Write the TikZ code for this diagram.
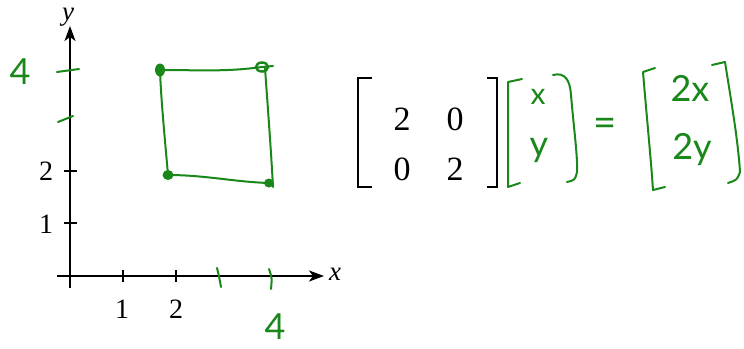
\documentclass[tikz,border=0pt]{standalone}
\usepackage{fontspec}
\setmainfont{Liberation Serif}
\newfontfamily\hand{Lato}
\usetikzlibrary{arrows.meta,shapes.geometric}
\definecolor{pen}{RGB}{25,135,25}
\begin{document}
\begin{tikzpicture}[x=1pt,y=-1pt,
 axis/.style={line width=1.4pt, -{Stealth[length=15pt,width=11pt,inset=4pt]}},
 tickmark/.style={line width=1.3pt},
 ticklabel/.style={font=\fontsize{28}{28}\selectfont, inner sep=0},
 axlabel/.style={font=\fontsize{27}{27}\selectfont\itshape, inner sep=0},
 ink/.style={pen, line width=2pt, line cap=round, line join=round},
 inktext/.style={pen, font=\hand\fontsize{36}{36}\selectfont, inner sep=0},
 entry/.style={font=\fontsize{34}{34}\selectfont, inner sep=0},
 bracket/.style={line width=1.8pt},
 inkdot/.style={ellipse, fill=pen, inner sep=0, minimum width=10pt, minimum height=13pt}
]
\useasboundingbox (0,0) rectangle (744,348);
% axes
\coordinate (xs) at (57,276);
\coordinate (xe) at (324,276);
\coordinate (ys) at (70,288);
\coordinate (ye) at (70,26);
\draw[axis] (xs) -- (xe);
\draw[axis] (ys) -- (ye);
\node[axlabel] (xl) at (335,274) {x};
\node[axlabel] (yl) at (68,17) {y};
% ticks
\draw[tickmark] (123,270) -- (123,282);
\draw[tickmark] (176,270) -- (176,282);
\draw[tickmark] (64,171) -- (77,171);
\draw[tickmark] (64,223) -- (77,223);
\node[ticklabel] (tx1) at (122,309) {1};
\node[ticklabel] (tx2) at (176,309) {2};
\node[ticklabel] (ty1) at (46,224) {1};
\node[ticklabel] (ty2) at (46,171) {2};
% green handwritten ticks
\draw[ink] (217,268) .. controls (219,276) .. (221,287);
\draw[ink] (269,269) .. controls (272,278) .. (271,289);
\draw[ink] (57,72) .. controls (68,70) .. (79,69);
\draw[ink] (58,122) -- (73,116);
\node[inktext] (g4a) at (20,72) {4};
\node[inktext] (g4b) at (275,327) {4};
% green square
\coordinate (sTL) at (160,70);
\coordinate (sTR) at (262,67);
\coordinate (sBR) at (269,183);
\coordinate (sBL) at (168,175);
\draw[ink] (sTL) .. controls (200,70) and (225,72) .. (sTR) -- (273,66);
\draw[ink] (265,68) .. controls (268,110) and (271,150) .. (273,187);
\draw[ink] (sBR) .. controls (235,182) and (205,175) .. (sBL);
\draw[ink] (sBL) .. controls (165,140) and (161,100) .. (sTL);
\node[inkdot] at (sTL) {};
\node[inkdot, minimum height=9pt, minimum width=12pt, fill=none, draw=pen, line width=2.5pt] at (sTR) {};
\node[inkdot, minimum width=10pt, minimum height=9pt] at (sBR) {};
\node[inkdot, minimum width=11pt, minimum height=10pt] at (sBL) {};
% matrix
\draw[bracket] (372,78) -- (358,78) -- (358,187) -- (372,187);
\draw[bracket] (487,78) -- (497,78) -- (497,187) -- (487,187);
\node[entry] (a11) at (402,119) {2};
\node[entry] (a12) at (455,119) {0};
\node[entry] (a21) at (402,169) {0};
\node[entry] (a22) at (455,169) {2};
% green column vector
\draw[ink] (522,79) -- (508,82) -- (508,187) -- (520,183);
\draw[ink] (553,75) .. controls (565,72) and (570,80) .. (571,95)
  .. controls (574,130) and (578,160) .. (577,172) .. controls (575,180) .. (567,182);
\node[inktext, font=\hand\fontsize{30}{30}\selectfont] (vx) at (538,97) {x};
\node[inktext] (vy) at (539,150) {y};
\node[inktext, font=\hand\fontsize{40}{40}\selectfont] (eq) at (605,127) {=};
% green result vector
\draw[ink] (655,68) -- (643,72) .. controls (647,120) and (651,160) .. (653,190) -- (665,187);
\draw[ink] (712,65) -- (725,62) .. controls (731,100) and (738,140) .. (740,172) .. controls (737,180) .. (728,183);
\node[inktext] (r1) at (690,88) {2x};
\node[inktext] (r2) at (692,150) {2y};
\end{tikzpicture}
\end{document}
